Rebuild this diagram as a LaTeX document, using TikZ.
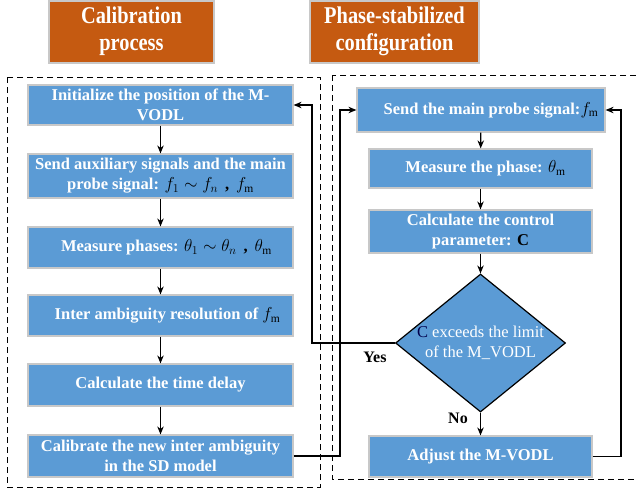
\documentclass[tikz,border=0pt]{standalone}
\usepackage{fontspec}
\setmainfont{Liberation Serif}
\usepackage{amsmath, amssymb}
\usepackage{xcolor}
\usetikzlibrary{calc, shapes.geometric, arrows.meta}

\definecolor{boxblue}{HTML}{5B9BD5}
\definecolor{headorange}{HTML}{C55A11}
\definecolor{boxrim}{HTML}{C8C8C8}

\newcommand{\blk}[1]{{\color{black}#1}}
\newcommand{\headtext}[2]{\scalebox{0.85}[1]{\begin{tabular}{@{}c@{}}#1\\#2\end{tabular}}}

\tikzset{
  headbox/.style={draw=boxrim, line width=1.5pt, fill=headorange, text=white,
    font=\fontsize{24}{27}\selectfont\bfseries, align=center,
    minimum height=62pt, inner sep=0pt},
  stepbox/.style={draw=boxrim, line width=1.2pt, fill=boxblue, text=white,
    font=\fontsize{16.5}{20}\selectfont\bfseries, align=center, inner sep=0pt},
  decision/.style={diamond, draw=black, line width=1.2pt, fill=boxblue,
    minimum width=170pt, minimum height=138pt, inner sep=0pt},
  flow/.style={-{Stealth[length=8pt, width=6.5pt]}, line width=1.2pt},
  frame/.style={dash pattern=on 6pt off 4pt, line width=0.8pt}
}

\begin{document}
\begin{tikzpicture}[x=1pt, y=-1pt]
	\useasboundingbox (0,0) rectangle (636,490);
	
	% headers
	\node [headbox, minimum width=165pt] (calib head) at (131.5,32) {\headtext{Calibration}{process}};
	\node [headbox, minimum width=169pt] (phase head) at (394.5,32) {\headtext{Phase-stabilized}{configuration}};
	
	% frames
	\draw [frame] (7,77) rectangle (320,487);
	\draw [frame] (332,75) rectangle (645,479);
	
	% calibration process
	\node [stepbox, minimum width=265pt, minimum height=40pt] (init) at (160.5,105)
		{Initialize the position of the M-\\VODL};
	\node [stepbox, minimum width=265pt, minimum height=44pt] (send) at (160.5,176)
		{Send auxiliary signals and the main\\probe signal: \blk{$f_1\sim f_n$\, ,\, $f_{\mathrm{m}}$}};
	\node [stepbox, minimum width=265pt, minimum height=41pt] (phases) at (160.5,247.5)
		{\hspace*{12pt}Measure phases: \blk{$\theta_1\sim\theta_n$\, ,\, $\theta_{\mathrm{m}}$}};
	\node [stepbox, minimum width=265pt, minimum height=41pt] (ambig) at (160.5,315.5)
		{\hspace*{14pt}Inter ambiguity resolution of \blk{$f_{\mathrm{m}}$}};
	\node [stepbox, minimum width=265pt, minimum height=42pt] (delay) at (160.5,385)
		{Calculate the time delay};
	\node [stepbox, minimum width=265pt, minimum height=42pt] (calib) at (160.5,456)
		{Calibrate the new inter ambiguity\\in the SD model};
	
	% phase-stabilized configuration
	\node [stepbox, minimum width=248pt, minimum height=44pt] (probe) at (481,110)
		{\hspace*{20pt}Send the main probe signal:\blk{$f_{\mathrm{m}}$}};
	\node [stepbox, minimum width=223pt, minimum height=39pt] (phase) at (480.5,168.5)
		{\hspace*{10pt}Measure the phase: \blk{$\theta_{\mathrm{m}}$}};
	\node [stepbox, minimum width=223pt, minimum height=43pt] (control) at (480.5,231.5)
		{Calculate the control\\parameter: \blk{C}};
	\node [decision] (cond) at (480.5,343) {};
	\node [text=white, align=center, font=\fontsize{16.5}{20}\selectfont] (cond text) at (cond.center)
		{\textcolor{black!70!blue}{C} exceeds the limit\\of the M\_VODL};
	\node [stepbox, minimum width=223pt, minimum height=41pt] (adjust) at (480.5,456.5)
		{Adjust the M-VODL};
	
	\coordinate (yes corner) at (312,343);
	\coordinate (calib corner) at (340,456);
	\coordinate (adjust corner) at (621,456.5);
	
	\draw [flow] (init) -- (send);
	\draw [flow] (send) -- (phases);
	\draw [flow] (phases) -- (ambig);
	\draw [flow] (ambig) -- (delay);
	\draw [flow] (delay) -- (calib);
	
	\draw [flow] (probe) -- (phase);
	\draw [flow] (phase) -- (control);
	\draw [flow] (control) -- (cond.north);
	\draw [flow] (cond.south) -- (adjust);
	
	\draw [flow] (cond.west) -- (yes corner) |- (init.east);
	\draw [flow] (calib.east) -- (calib corner) |- (probe.west);
	\draw [flow] (adjust.east) -- (adjust corner) |- (probe.east);
	
	\fill (340,343) circle [radius = 1.6pt];
	
	\node [font=\fontsize{16}{18}\selectfont\bfseries] (yes label) at (375,357) {Yes};
	\node [font=\fontsize{16}{18}\selectfont\bfseries] (no label) at (458,418) {No};
\end{tikzpicture}
\end{document}
